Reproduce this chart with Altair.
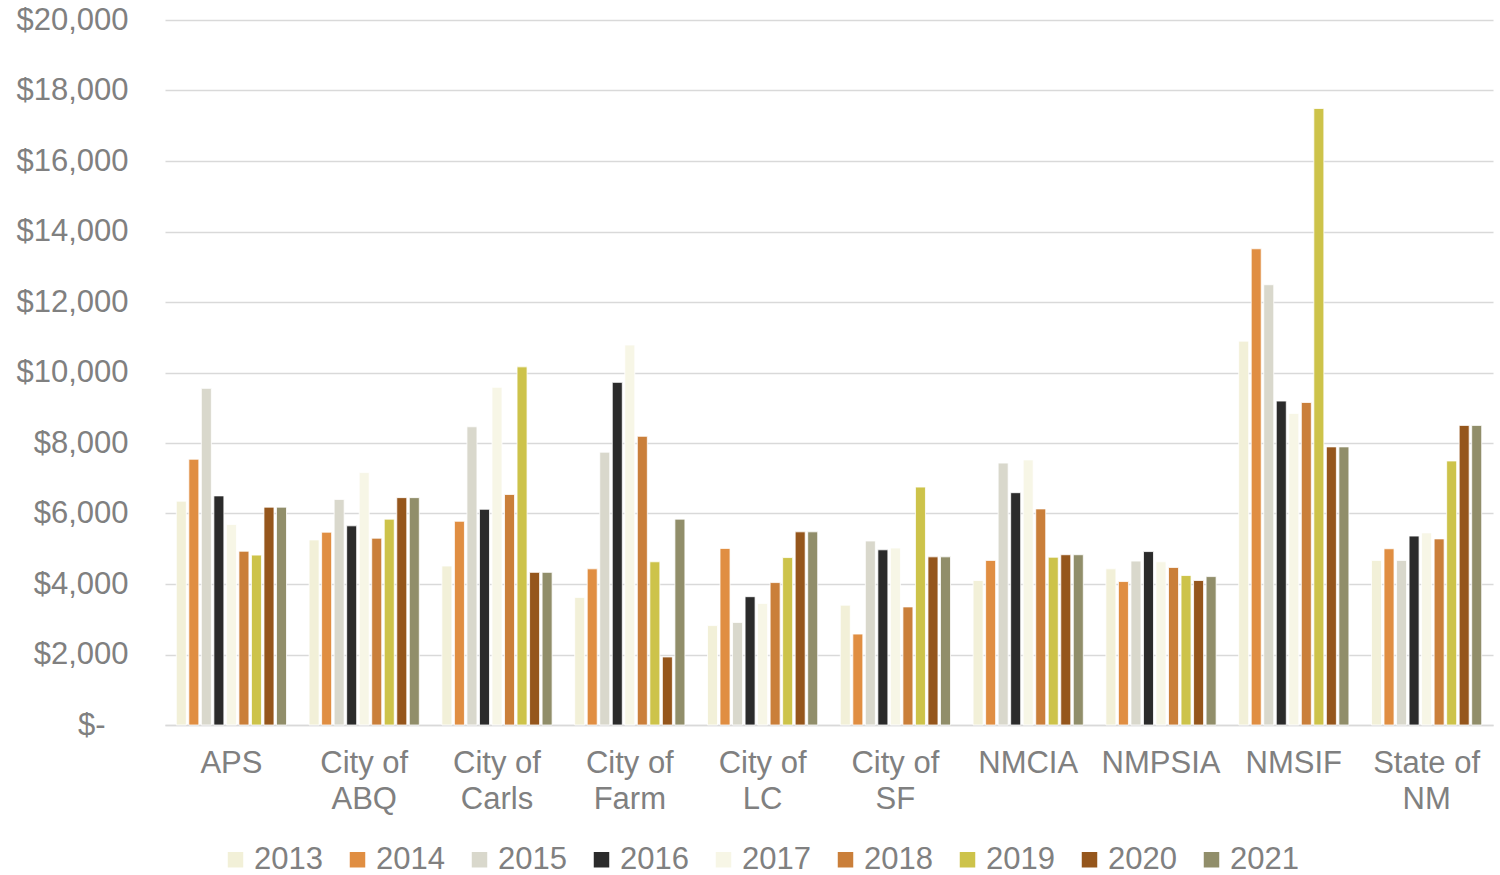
import altair as alt
import pandas as pd

categories = ["APS", "City of ABQ", "City of Carls", "City of Farm", "City of LC",
              "City of SF", "NMCIA", "NMPSIA", "NMSIF", "State of NM"]
years = ["2013", "2014", "2015", "2016", "2017", "2018", "2019", "2020", "2021"]
colors = ["#F2F0D8", "#E08E42", "#D9D8CC", "#2B2B2B", "#F7F6E6",
          "#CA7F3A", "#CDC34A", "#95561C", "#918E6A"]

v2013 = [6350, 5250, 4510, 3620, 2820, 3400, 4100, 4430, 10890, 4670]
v2014 = [7540, 5470, 5780, 4430, 5010, 2580, 4670, 4070, 13510, 5000]
v2015 = [9550, 6400, 8460, 7740, 2910, 5220, 7430, 4650, 12490, 4670]
v2016 = [6500, 5650, 6120, 9720, 3640, 4970, 6590, 4920, 9190, 5360]
v2017 = [5690, 7160, 9580, 10780, 3450, 5020, 7520, 4630, 8840, 5450]
v2018 = [4930, 5300, 6540, 8190, 4040, 3350, 6130, 4470, 9150, 5280]
v2019 = [4820, 5840, 10160, 4630, 4750, 6750, 4760, 4240, 17490, 7490]
v2020 = [6180, 6450, 4330, 1930, 5480, 4770, 4830, 4100, 7890, 8500]
v2021 = [6180, 6450, 4330, 5840, 5480, 4770, 4830, 4210, 7890, 8500]

series = [v2013, v2014, v2015, v2016, v2017, v2018, v2019, v2020, v2021]
rows = []
for yr, vals in zip(years, series):
    for c, v in zip(categories, vals):
        rows.append({"category": c, "year": yr, "value": v})
df = pd.DataFrame(rows)

FONT = "Liberation Sans"
GRAY = "#808080"
FS = 31

x_label_expr = ("indexof(datum.label, ' of ') > 0 ? "
                "[substring(datum.label, 0, indexof(datum.label, ' of ') + 3), "
                "substring(datum.label, indexof(datum.label, ' of ') + 4)] : datum.label")

chart = alt.Chart(df).mark_bar(stroke="white", strokeWidth=0.8).encode(
    x=alt.X("category:N", sort=categories, title=None,
            scale=alt.Scale(paddingInner=0.17, paddingOuter=0.085),
            axis=alt.Axis(labelAngle=0, labelFont=FONT, labelFontSize=FS,
                          labelColor=GRAY, labelPadding=23, labelLineHeight=36,
                          labelBaseline="top",
                          ticks=False, domainColor="#D9D9D9", domainWidth=1.5,
                          labelExpr=x_label_expr)),
    xOffset=alt.XOffset("year:N", sort=years, scale=alt.Scale(paddingInner=0.2)),
    y=alt.Y("value:Q", title=None,
            scale=alt.Scale(domain=[0, 20000]),
            axis=alt.Axis(values=list(range(0, 20001, 2000)), labelFont=FONT,
                          labelFontSize=FS, labelColor=GRAY, labelPadding=37,
                          ticks=False, domain=False, gridColor="#D9D9D9",
                          gridWidth=1.5,
                          labelExpr="datum.value == 0 ? '$-\u2800' : '$' + format(datum.value, ',')")),
    color=alt.Color("year:N", sort=years,
                    scale=alt.Scale(domain=years, range=colors),
                    legend=alt.Legend(title=None, orient="none", direction="horizontal",
                                      legendX=55, legendY=824, symbolType="square",
                                      symbolSize=240, symbolStrokeWidth=0,
                                      labelFont=FONT, labelFontSize=FS,
                                      labelColor=GRAY, labelOffset=3,
                                      columnPadding=19, columns=9)),
).properties(
    width=1328, height=705,
    autosize=alt.AutoSizeParams(type="none"),
    padding={"left": 165, "top": 20, "right": 7, "bottom": 150},
).configure(background="white").configure_view(stroke=None)

chart.save("out.html", embed_options={"renderer": "svg", "actions": False})
